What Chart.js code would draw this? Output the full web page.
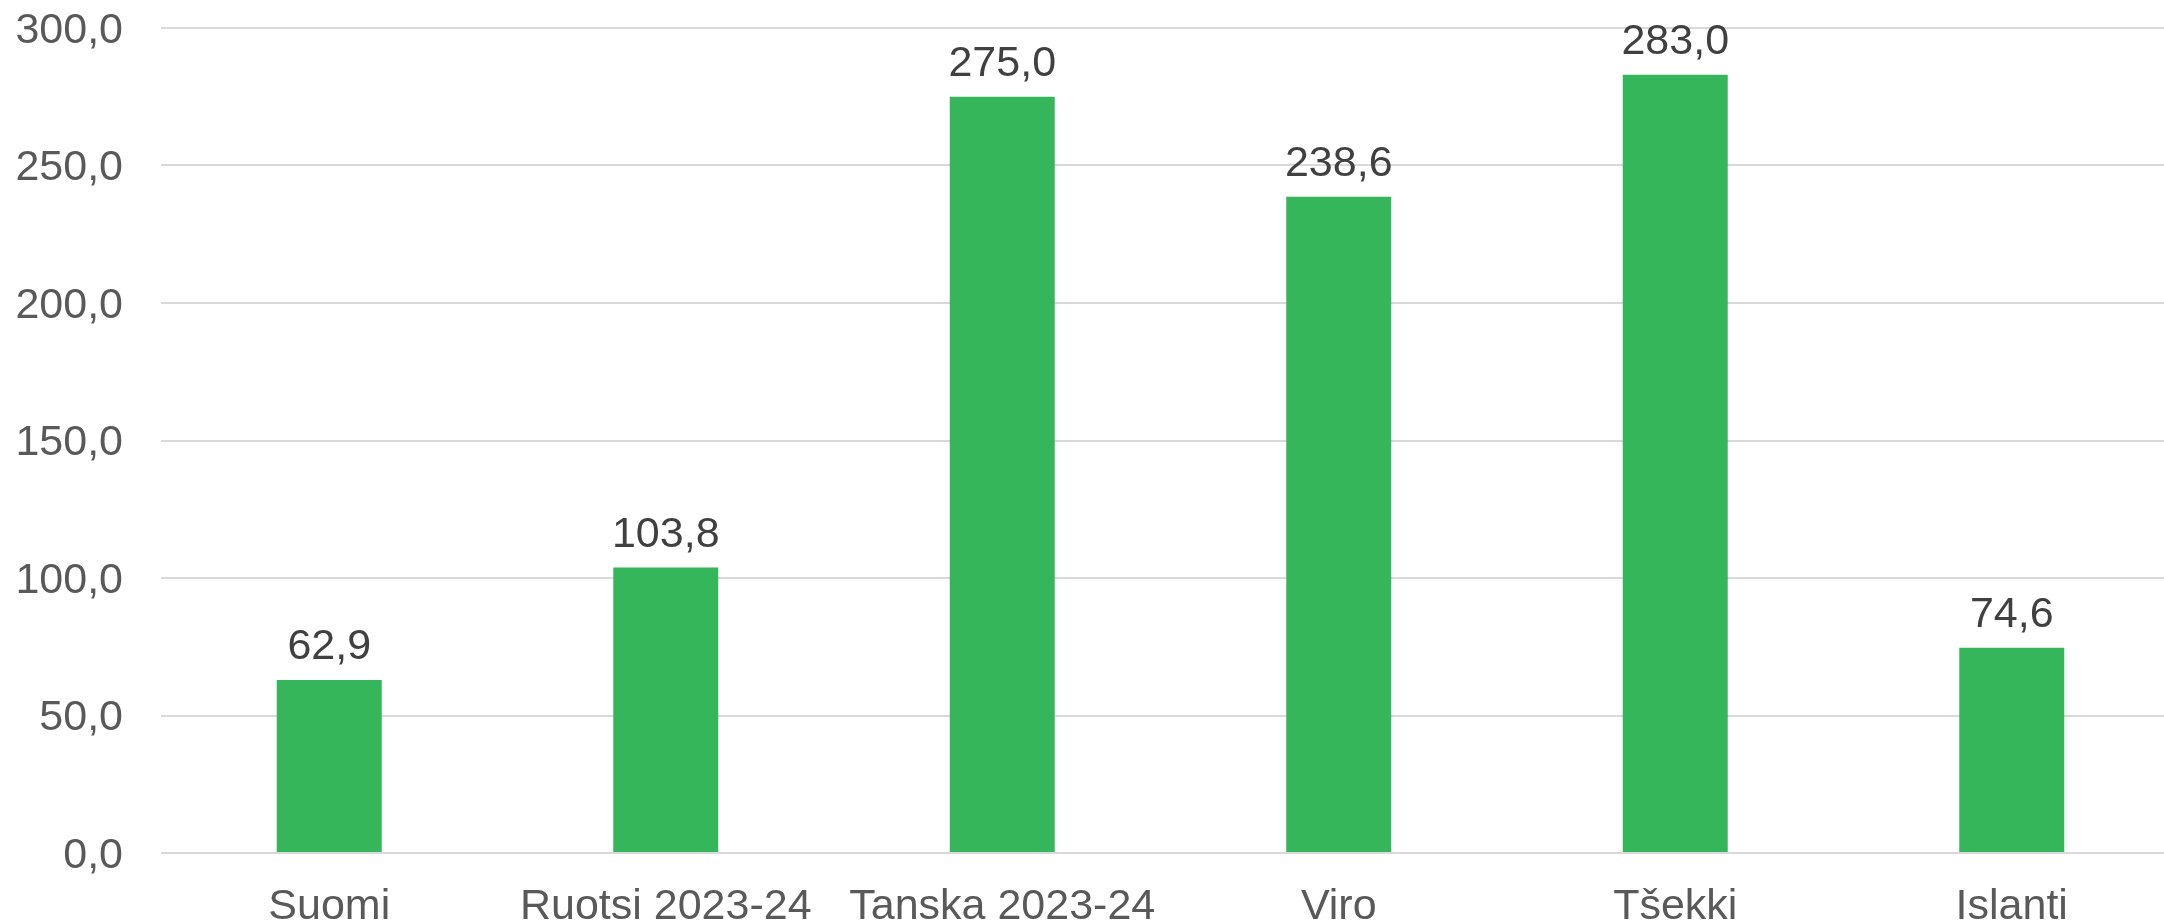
<!DOCTYPE html>
<html>
<head>
<meta charset="utf-8">
<script src="https://cdn.jsdelivr.net/npm/chart.js@4/dist/chart.umd.min.js"></script>
<style>
  html, body { margin: 0; padding: 0; background: #fff; overflow: hidden; }
</style>
</head>
<body>
<canvas id="myChart" width="2180" height="920"></canvas>
<script>
const categories = ['Suomi', 'Ruotsi 2023-24', 'Tanska 2023-24', 'Viro', 'Tšekki', 'Islanti'];
const values = [62.9, 103.8, 275.0, 238.6, 283.0, 74.6];
const yTicks = [0, 50, 100, 150, 200, 250, 300];

const fmt = v => v.toFixed(1).replace('.', ',');
const FONT = '"Liberation Sans", Arial, sans-serif';

// value labels above the bars
const barLabels = {
    id: 'barLabels',
    afterDatasetsDraw(chart) {
        const ctx = chart.ctx;
        const meta = chart.getDatasetMeta(0);
        ctx.save();
        ctx.font = '43px ' + FONT;
        ctx.fillStyle = '#404040';
        ctx.textAlign = 'center';
        ctx.textBaseline = 'alphabetic';
        meta.data.forEach((bar, i) => {
            ctx.fillText(fmt(values[i]), bar.x, bar.y - 21);
        });
        ctx.restore();
    }
};

const ctx = document.getElementById('myChart').getContext('2d');
const myChart = new Chart(ctx, {
    type: 'bar',
    data: {
        labels: categories,
        datasets: [{
            data: values,
            backgroundColor: '#35B65B',
            borderWidth: 0,
            barPercentage: 0.312,
            categoryPercentage: 1.0
        }]
    },
    options: {
        responsive: false,
        animation: false,
        layout: { padding: { top: 28, right: 0, bottom: 0, left: 0 } },
        plugins: {
            legend: { display: false },
            tooltip: { enabled: false }
        },
        scales: {
            x: {
                grid: { display: false, drawTicks: false },
                border: { display: false },
                afterFit: axis => { axis.height = 67; axis.paddingLeft = 0; axis.paddingRight = 0; },
                ticks: {
                    color: '#595959',
                    padding: 28,
                    maxRotation: 0,
                    autoSkip: false,
                    font: { family: FONT, size: 43 }
                }
            },
            y: {
                min: 0,
                max: 300,
                afterBuildTicks: axis => { axis.ticks = yTicks.map(v => ({ value: v })); },
                afterFit: axis => { axis.width = 161; axis.paddingTop = 0; axis.paddingBottom = 0; },
                grid: { color: '#d9d9d9', lineWidth: 2, drawTicks: false },
                border: { display: false },
                ticks: {
                    color: '#595959',
                    padding: 38,
                    labelOffset: 3,
                    font: { family: FONT, size: 43 },
                    callback: v => fmt(v)
                }
            }
        }
    },
    plugins: [barLabels]
});
</script>
</body>
</html>
